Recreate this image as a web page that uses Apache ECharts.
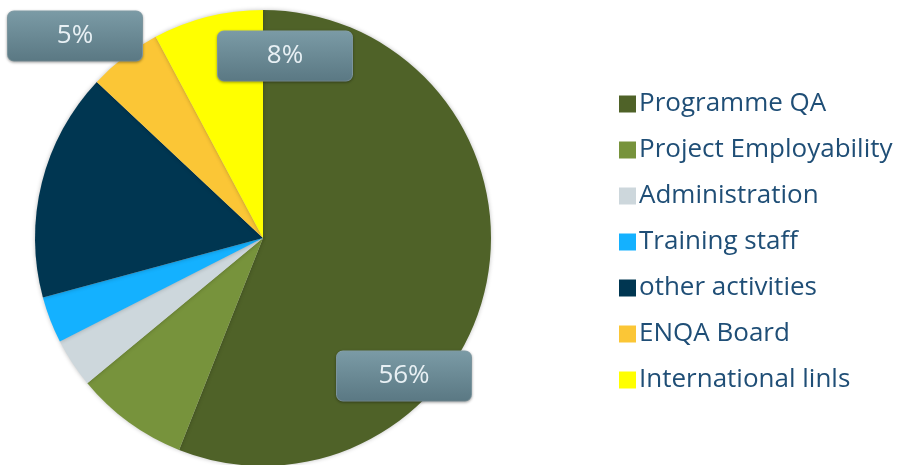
<!DOCTYPE html>
<html>
<head>
<meta charset="utf-8">
<script src="https://cdn.jsdelivr.net/npm/echarts@6/dist/echarts.min.js"></script>
<style>
  html, body { margin: 0; padding: 0; background: #fff; }
  #main { width: 904px; height: 465px; }
</style>
</head>
<body>
<div id="main"></div>
<script>
// 各项工作所占比例
var categories = ['Programme QA', 'Project Employability', 'Administration', 'Training staff', 'other activities', 'ENQA Board', 'International linls']
var shares = [56, 8, 3.5, 3.3, 16.2, 5.2, 7.8]
var colors = ['#4f6228', '#77933c', '#cdd7dc', '#14b1ff', '#003651', '#fbc636', '#ffff00']
// 只给这几项显示百分比标签
var labelled = ['Programme QA', 'ENQA Board', 'International linls']
// 标签框中心位置
var labelPos = {
  'Programme QA': [404, 376],
  'ENQA Board': [75, 36],
  'International linls': [285, 56]
}

var chart = echarts.init(document.getElementById('main'))

var pieData = categories.map(function (name, i) {
  return {
    name: name,
    value: shares[i],
    itemStyle: { color: colors[i] },
    label: { show: labelled.indexOf(name) !== -1 }
  }
})

var option = {
  animation: false,
  legend: {
    orient: 'vertical',
    left: 614,
    top: 86,
    icon: 'rect',
    itemWidth: 17,
    itemHeight: 17,
    itemGap: 20,
    textStyle: {
      fontFamily: 'Open Sans',
      fontSize: 26,
      lineHeight: 26,
      color: '#1f4e76',
      padding: [0, 0, 0, -2]
    },
    data: categories
  },
  series: [{
    type: 'pie',
    center: [263, 238],
    radius: 228,
    startAngle: 90,
    clockwise: true,
    avoidLabelOverlap: false,
    itemStyle: {
      shadowBlur: 4,
      shadowColor: 'rgba(0,0,0,0.25)'
    },
    label: {
      position: 'inside',
      formatter: function (p) { return Math.round(p.percent) + '%' },
      fontFamily: 'Open Sans',
      fontSize: 26,
      color: '#e8f0f4',
      width: 134,
      height: 45,
      lineHeight: 45,
      padding: [4, 0, 0, 0],
      align: 'center',
      verticalAlign: 'middle',
      borderRadius: 6,
      borderColor: '#8aa6b0',
      borderWidth: 1,
      shadowBlur: 3,
      shadowColor: 'rgba(0,0,0,0.3)',
      shadowOffsetY: 1,
      backgroundColor: {
        type: 'linear', x: 0, y: 0, x2: 0, y2: 1,
        colorStops: [
          { offset: 0, color: '#7b9ba6' },
          { offset: 1, color: '#5a7883' }
        ]
      }
    },
    labelLayout: function (params) {
      var name = categories[params.dataIndex]
      var pos = labelPos[name]
      if (!pos) return {}
      return { x: pos[0], y: pos[1], align: 'center', verticalAlign: 'middle' }
    },
    labelLine: { show: false },
    emphasis: { disabled: true },
    data: pieData
  }]
}

chart.setOption(option)
</script>
</body>
</html>
